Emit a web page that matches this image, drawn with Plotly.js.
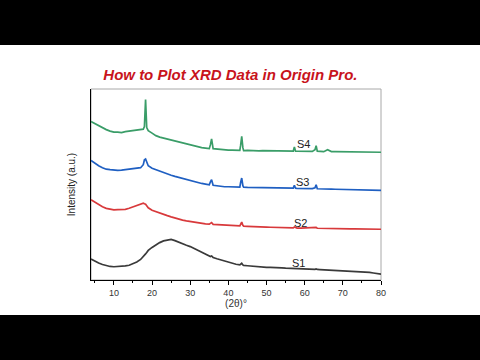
<!DOCTYPE html>
<html>
<head>
<meta charset="utf-8">
<script src="https://cdn.plot.ly/plotly-3.0.1.min.js"></script>
<style>
html,body{margin:0;padding:0;background:#000;width:480px;height:360px;overflow:hidden;}
#chart{position:absolute;left:0;top:45px;width:480px;height:270px;background:#fff;}
</style>
</head>
<body>
<div id="chart"></div>
<script>
// 2θ positions (degrees)
const twoTheta = [4,5,6,7,8,9,10,11,12,13,14,15,16,17,17.7,18.0,18.3,18.6,19,20,21,22,23,24,25,26,27,28,29,30,31,32,33,34,35,35.3,35.6,36,37,38,39,40,41,42,43,43.2,43.5,43.8,44,45,46,47,48,49,50,51,52,53,54,55,56,57,57.3,57.6,58,59,60,61,62,62.7,63.0,63.3,64,65,66,67,68,69,70,71,72,73,74,75,76,77,78,79,80];

// intensities (a.u., stacked offsets included)
const s1 = [21,18.7,17,15.5,14.3,13.5,13.2,13.4,13.5,14,14.7,16,18,20.5,23,24.5,26,27.5,29.5,32.5,35,37.3,39,40,40.5,39.3,38,36.3,34.7,33.3,31.5,29.5,27.5,25.7,24,23.5,24,22.5,21.2,20,18.7,17.5,16.5,15.7,15,16,16.7,15,14.5,14.2,13.8,13.5,13.2,12.8,12.5,12.6,12.2,12,12.1,11.8,11.6,11.5,11.9,11.4,11.3,11.1,11,10.8,10.9,10.6,11,10.5,10.4,10.2,10.3,10,9.8,9.6,9.4,9.2,9,8.6,8.4,8.2,8,7.6,7,6.4,5.8];
const s2 = [80,77.5,75,73,71.5,70.7,70,70.2,70,70.5,71.5,72.7,74,75.5,76.7,76,75.5,74,72,69.5,68,66.7,65.5,64.2,63,61.7,60.5,59.7,59,58.3,57.7,57,56.5,56,55.7,56.5,57.3,55.5,55.2,55,54.7,54.4,54.2,54,54,55.5,57.7,54.5,53.7,53.5,53.2,53.1,52.9,52.8,52.7,52.6,52.5,52.4,52.3,52.2,52.1,52,52.8,52,51.8,51.7,51.8,51.6,51.7,51.7,52.4,51.6,51.5,51.5,51.4,51.3,51.3,51.2,51.1,51.1,51,51,50.9,50.9,50.8,50.8,50.7,50.7,50.6];
const s3 = [119.3,116.5,114,112,110.5,110,109.5,109.3,109.5,110,110.5,111,111.5,112,115,120,120.7,117,114,111.5,110,108.3,107,105.7,104.5,103.3,102.2,101.2,100.2,99.3,98.3,97.3,96.3,95.7,95,98,100,94.5,93.8,93.3,93,93,92.8,92.7,92.7,97,101.7,94,92.5,92.3,92.2,92,92.1,91.9,91.8,91.8,91.7,91.6,91.6,91.5,91.5,91.6,94.5,91.5,91.4,91.3,91.3,91.2,91.2,92,95,91,90.8,90.7,90.6,90.6,90.5,90.4,90.3,90.2,90.1,90,89.9,89.8,89.7,89.6,89.5,89.4,89.3];
const s4 = [158,156,154,151.5,150,148.5,147.5,147.5,147,148,148.5,149,149.5,150,150.5,153,180,152,149,146.5,144,142.5,141.5,140.5,139.5,138.5,137.5,136.5,135.5,135,134,133,132,131.5,131,135,140.7,131,130.5,130,130,129.5,129.5,129.3,129.3,134,143.3,132,129,129.2,128.9,129.1,128.8,129,128.9,128.7,128.8,128.6,128.7,128.5,128.6,128.5,132.7,128.5,128.4,128.5,128.3,128.4,128.3,130,134,128.5,128.2,128,130,128.1,128,127.9,128,127.8,127.9,127.8,127.7,127.8,127.6,127.7,127.6,127.5,127.4];

const seriesNames = ['S1','S2','S3','S4'];
const seriesData = [s1,s2,s3,s4];
const seriesColors = ['#3a3a3a','#d8393b','#1f5fc2','#3a9d68'];
// label anchor positions (2θ, intensity)
const labelX = [58.3,58.8,59.5,59.7];
const labelY = [17,57,98,135.5];

const traces = seriesData.map((d,i)=>({
  x: twoTheta, y: d, type:'scatter', mode:'lines', name: seriesNames[i],
  line:{color: seriesColors[i], width:1.7}, hoverinfo:'skip'
}));

const annotations = seriesNames.map((n,i)=>({
  x: labelX[i], y: labelY[i], xref:'x', yref:'y', text:n, showarrow:false,
  font:{family:'Liberation Sans, Arial, sans-serif', size:11, color:'#222'},
  xanchor:'center', yanchor:'middle'
}));

const layout = {
  width:480, height:270,
  margin:{l:91, r:99, t:44, b:35, pad:0},
  paper_bgcolor:'#fff', plot_bgcolor:'#fff',
  showlegend:false,
  title:{
    text:'<b><i>How to Plot XRD Data in Origin Pro.</i></b>',
    font:{family:'Liberation Sans, Arial, sans-serif', size:15, color:'#c8141c'},
    x:0.48, xanchor:'center', xref:'container', y:0.889, yanchor:'middle', yref:'container'
  },
  xaxis:{
    range:[4,80], showgrid:false, zeroline:false,
    showline:true, linecolor:'#000', linewidth:1,
    ticks:'outside', ticklen:4, tickwidth:1, tickcolor:'#000',
    tickvals:[10,20,30,40,50,60,70,80],
    minor:{tickvals:[5,15,25,35,45,55,65,75], ticks:'outside', ticklen:2, tickcolor:'#000'},
    tickfont:{family:'Liberation Sans, Arial, sans-serif', size:9, color:'#333'},
    title:{text:'(2θ)°', font:{family:'Liberation Sans, Arial, sans-serif', size:10, color:'#333'}, standoff:3}
  },
  yaxis:{
    range:[0,190.5], showgrid:false, zeroline:false,
    showline:true, linecolor:'#000', linewidth:1,
    showticklabels:false, ticks:'',
    title:{text:'Intensity (a.u.)', font:{family:'Liberation Sans, Arial, sans-serif', size:10, color:'#222'}, standoff:12}
  },
  shapes:[{type:'rect', xref:'paper', yref:'paper', x0:0, x1:1, y0:0, y1:1, line:{color:'#a8a8a8', width:1}, layer:'below'}],
  annotations: annotations
};

Plotly.newPlot('chart', traces, layout, {staticPlot:true, displayModeBar:false});
</script>
</body>
</html>
